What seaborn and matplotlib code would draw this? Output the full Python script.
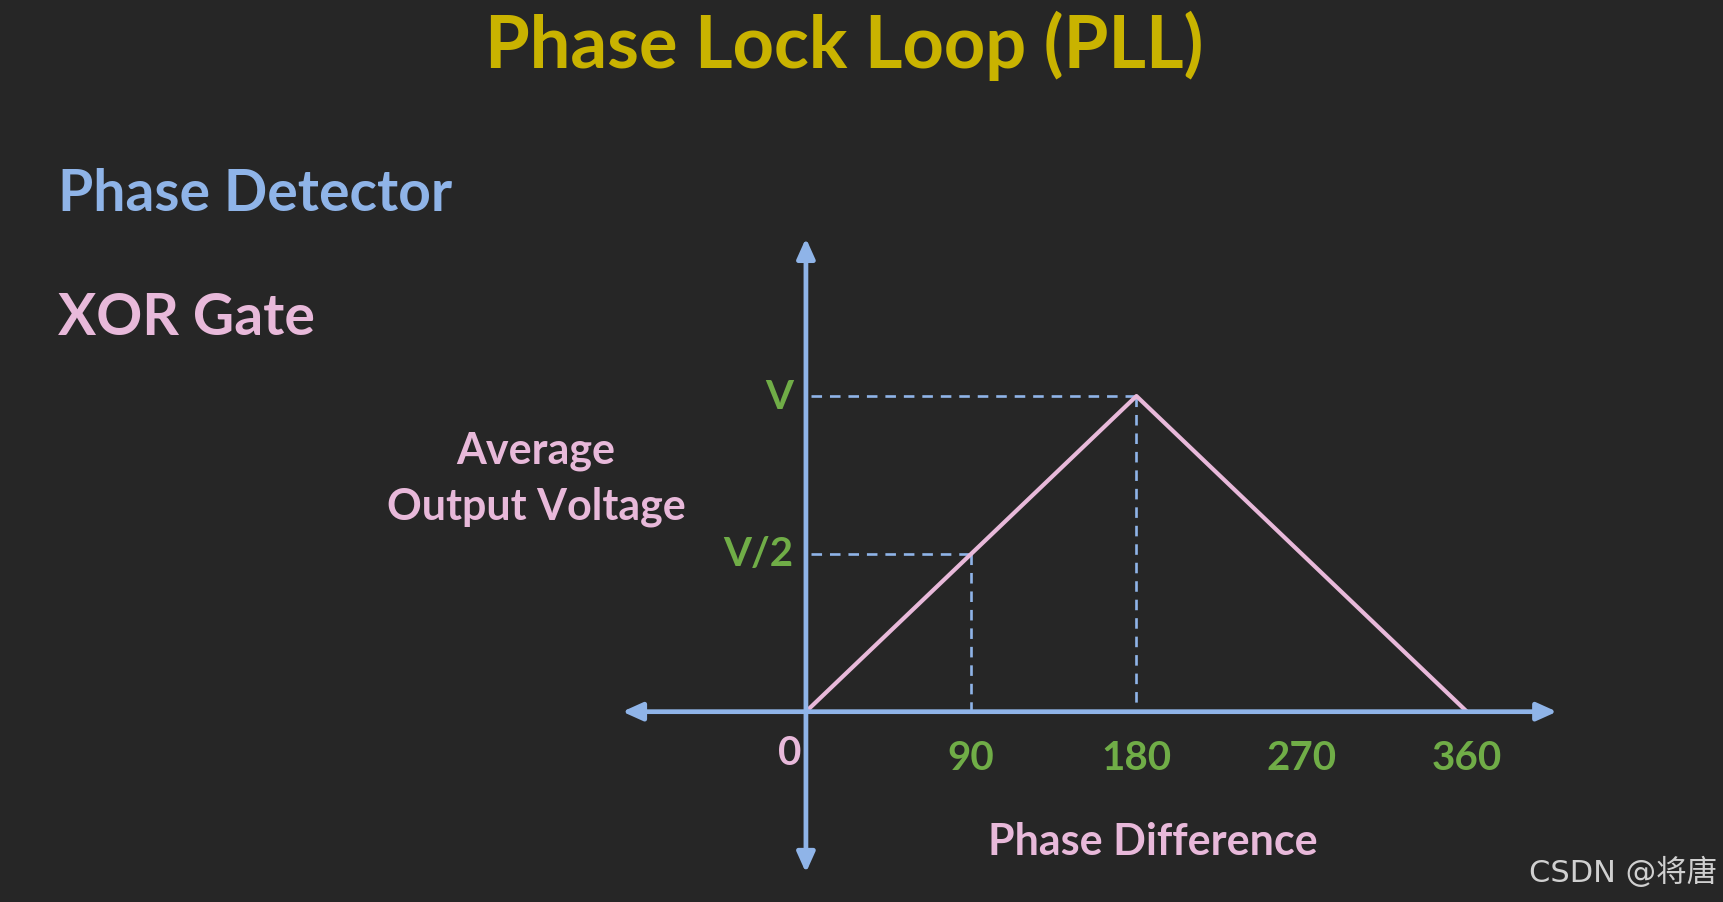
import numpy as np
import pandas as pd
import seaborn as sns
import matplotlib.pyplot as plt

# XOR phase detector: average output vs phase difference
phase = [0, 180, 360]            # degrees
voltage = [0.0, 1.0, 0.0]        # in units of V
x_ticks = [90, 180, 270, 360]
x_tick_labels = ["90", "180", "270", "360"]
y_ticks = [1.0, 0.5]
y_tick_labels = ["V", "V/2"]

BG = "#262626"
BLUE = "#8fb4e8"
PINK = "#e8b9da"
GREEN = "#70ad47"
GOLD = "#c9b300"

sns.set_theme(style="dark", rc={"figure.facecolor": BG, "axes.facecolor": BG})
plt.rcParams["font.family"] = ["Lato", "DejaVu Sans"]

fig = plt.figure(figsize=(17.24, 9.03), dpi=100)
ax = fig.add_axes([0, 0, 1, 1])
# 0 deg at ~733 px, 1.67 px per degree (in 1568-wide reference units)
ax.set_xlim(-733 / 1.67, (1568 - 733) / 1.67)
ax.set_ylim(-0.603, 2.258)
ax.axis("off")

# axes with arrows
ax.annotate("", xy=(409, 0), xytext=(-100, 0),
            arrowprops=dict(arrowstyle="<|-|>,head_length=1.0,head_width=0.45",
                            color=BLUE, lw=3.4, shrinkA=0, shrinkB=0))
ax.annotate("", xy=(0, 1.5), xytext=(0, -0.51),
            arrowprops=dict(arrowstyle="<|-|>,head_length=1.0,head_width=0.45",
                            color=BLUE, lw=3.4, shrinkA=0, shrinkB=0))

# dashed guides
dash = dict(color=BLUE, lw=1.9, ls=(0, (4, 3)))
ax.plot([3, phase[1]], [1.0, 1.0], **dash)
ax.plot([3, 90], [0.5, 0.5], **dash)
ax.plot([90, 90], [0.5, 0.0], **dash)
ax.plot([180, 180], [1.0, 0.02], **dash)

# response curve
df = pd.DataFrame({"phase": phase, "voltage": voltage})
sns.lineplot(data=df, x="phase", y="voltage", ax=ax, color=PINK, lw=3.0)

# tick labels
for xv, lab in zip(x_ticks, x_tick_labels):
    ax.text(xv, -0.145, lab, color=GREEN, fontsize=29, fontweight="bold",
            ha="center", va="center")
ax.text(-9, -0.13, "0", color=PINK, fontsize=29, fontweight="bold",
        ha="center", va="center")
for yv, lab in zip(y_ticks, y_tick_labels):
    ax.text(-7, yv, lab, color=GREEN, fontsize=29, fontweight="bold",
            ha="right", va="center")

ax.text(189, -0.41, "Phase Difference", color=PINK, fontsize=31,
        fontweight="bold", ha="center", va="center")
ax.text(-147, 0.74, "Average\nOutput Voltage", color=PINK, fontsize=31,
        fontweight="bold", ha="center", va="center", linespacing=1.45)

# headings
fig.text(768 / 1568, 1 - 42 / 821, "Phase Lock Loop (PLL)", color=GOLD,
         fontsize=52, fontweight="bold", ha="center", va="center")
fig.text(53 / 1568, 1 - 177 / 821, "Phase Detector", color=BLUE,
         fontsize=41, fontweight="bold", ha="left", va="center")
fig.text(53 / 1568, 1 - 290 / 821, "XOR Gate", color=PINK,
         fontsize=41, fontweight="bold", ha="left", va="center")
fig.text(1562 / 1568, 1 - 793 / 821, "CSDN @将唐", color="#d0d0d0",
         fontsize=22, ha="right", va="center",
         family=["DejaVu Sans", "Noto Sans CJK SC"])

fig.savefig("out.png", dpi=100, facecolor=BG)
